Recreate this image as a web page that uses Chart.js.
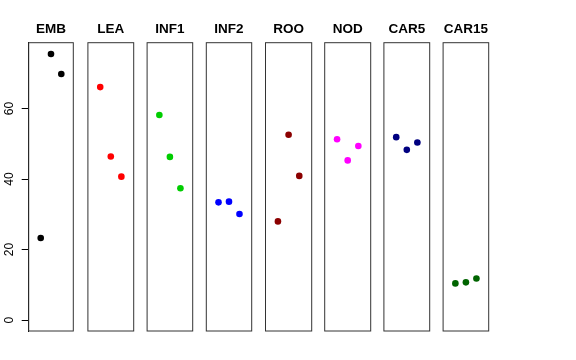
<!DOCTYPE html>
<html>
<head>
<meta charset="utf-8">
<script src="https://cdn.jsdelivr.net/npm/chart.js@4/dist/chart.umd.min.js"></script>
<style>
  html, body { margin: 0; padding: 0; background: #fff; }
  #wrap { position: relative; width: 576px; height: 360px; overflow: hidden; }
  .cell { position: absolute; top: 0; height: 360px; }
</style>
</head>
<body>
<div id="wrap"></div>
<script>
// Data
const groups = ['EMB', 'LEA', 'INF1', 'INF2', 'ROO', 'NOD', 'CAR5', 'CAR15'];
const groupColors = ['#000000', '#FF0000', '#00CD00', '#0000FF', '#8B0000', '#FF00FF', '#000080', '#006400'];
const replicates = [1, 2, 3];
const emb = [23.3, 75.5, 69.8];
const lea = [66.1, 46.4, 40.7];
const inf1 = [58.2, 46.3, 37.4];
const inf2 = [33.4, 33.6, 30.1];
const roo = [28.0, 52.6, 40.9];
const nod = [51.3, 45.3, 49.4];
const car5 = [51.9, 48.3, 50.4];
const car15 = [10.4, 10.7, 11.8];
const seriesValues = [emb, lea, inf1, inf2, roo, nod, car5, car15];
const yTicks = [0, 20, 40, 60];
const yMin = -3.1, yMax = 78.7;
const xMin = -0.165, xMax = 4.165;

// Layout (pixels)
const PANEL_LEFT0 = 28.7;
const PANEL_STEP = 59.2;
const PANEL_W = 44.6;
const AREA_TOP = 42.7;
const AREA_BOTTOM = 331;
const TITLE_SIZE = 13.5;
const TITLE_PAD_TOP = 21.2;

Chart.defaults.font.family = "'Liberation Sans', Arial, Helvetica, sans-serif";
Chart.defaults.color = '#000';

// Box round every panel
const panelBox = {
  id: 'panelBox',
  afterDraw(chart) {
    const { ctx, chartArea: a } = chart;
    ctx.save();
    ctx.strokeStyle = '#333';
    ctx.lineWidth = 1;
    ctx.strokeRect(a.left, a.top, a.right - a.left, a.bottom - a.top);
    ctx.restore();
  }
};

const wrap = document.getElementById('wrap');

groups.forEach((name, i) => {
  const isFirst = i === 0;
  const pl = PANEL_LEFT0 + i * PANEL_STEP;
  const canvasLeft = isFirst ? 0 : Math.floor(pl) - 4;
  const canvasW = Math.ceil(pl + PANEL_W) + 4 - canvasLeft;
  const padLeft = isFirst ? 0 : pl - canvasLeft;
  const padRight = canvasW - (pl + PANEL_W);

  const cell = document.createElement('div');
  cell.className = 'cell';
  cell.style.left = canvasLeft + 'px';
  cell.style.width = canvasW + 'px';
  const canvas = document.createElement('canvas');
  cell.appendChild(canvas);
  wrap.appendChild(cell);

  const yAxis = {
    type: 'linear',
    min: yMin,
    max: yMax,
    display: isFirst,
    position: 'left',
    afterBuildTicks(scale) { scale.ticks = yTicks.map(v => ({ value: v })); },
    grid: { drawOnChartArea: false, drawTicks: true, tickLength: 7, color: '#000' },
    border: { display: true, color: '#000' },
    ticks: {
      minRotation: 90,
      maxRotation: 90,
      crossAlign: 'center',
      padding: 5,
      color: '#000',
      font: { size: 12 }
    }
  };
  if (isFirst) yAxis.afterFit = scale => { scale.width = pl; };

  new Chart(canvas, {
    type: 'scatter',
    plugins: [panelBox],
    data: {
      datasets: [{
        data: replicates.map((r, j) => ({ x: r, y: seriesValues[i][j] })),
        backgroundColor: groupColors[i],
        borderColor: groupColors[i],
        borderWidth: 0,
        pointRadius: 3.3,
        pointHoverRadius: 3.3
      }]
    },
    options: {
      responsive: true,
      maintainAspectRatio: false,
      animation: false,
      events: [],
      layout: {
        padding: { top: 0, bottom: 360 - AREA_BOTTOM, left: padLeft, right: padRight }
      },
      scales: {
        x: { type: 'linear', min: xMin, max: xMax, display: false },
        y: yAxis
      },
      plugins: {
        legend: { display: false },
        tooltip: { enabled: false },
        title: {
          display: true,
          text: name,
          fullSize: false,
          color: '#000',
          font: { size: TITLE_SIZE, weight: 'bold' },
          padding: { top: TITLE_PAD_TOP, bottom: AREA_TOP - TITLE_PAD_TOP - TITLE_SIZE * 1.2 }
        }
      }
    }
  });
});
</script>
</body>
</html>
